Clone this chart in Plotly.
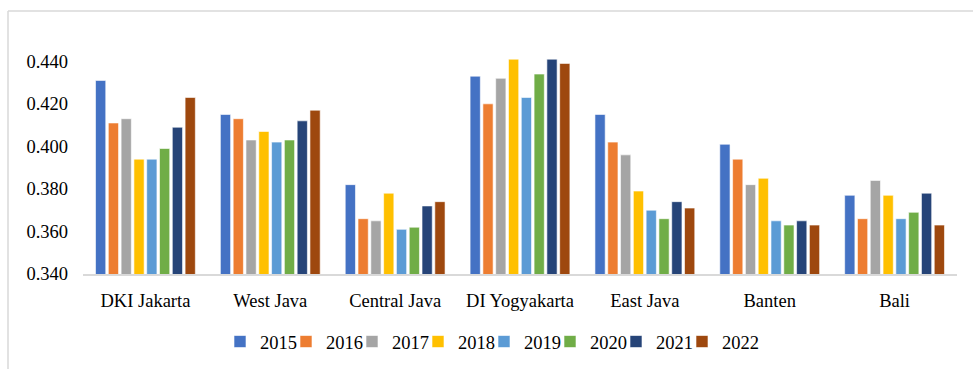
import plotly.graph_objects as go

categories = ["DKI Jakarta", "West Java", "Central Java", "DI Yogyakarta", "East Java", "Banten", "Bali"]
years = ["2015", "2016", "2017", "2018", "2019", "2020", "2021", "2022"]
v2015 = [0.431, 0.415, 0.382, 0.433, 0.415, 0.401, 0.377]
v2016 = [0.411, 0.413, 0.366, 0.420, 0.402, 0.394, 0.366]
v2017 = [0.413, 0.403, 0.365, 0.432, 0.396, 0.382, 0.384]
v2018 = [0.394, 0.407, 0.378, 0.441, 0.379, 0.385, 0.377]
v2019 = [0.394, 0.402, 0.361, 0.423, 0.370, 0.365, 0.366]
v2020 = [0.399, 0.403, 0.362, 0.434, 0.366, 0.363, 0.369]
v2021 = [0.409, 0.412, 0.372, 0.441, 0.374, 0.365, 0.378]
v2022 = [0.423, 0.417, 0.374, 0.439, 0.371, 0.363, 0.363]
series = [v2015, v2016, v2017, v2018, v2019, v2020, v2021, v2022]
colors = ["#4472C4", "#ED7D31", "#A5A5A5", "#FFC000", "#5B9BD5", "#70AD47", "#264478", "#9E480E"]
tickvals = [0.34, 0.36, 0.38, 0.40, 0.42, 0.44]
ticktext = ["0.340", "0.360", "0.380", "0.400", "0.420", "0.440"]

FAM = "Liberation Serif"
FS = 18.5

fig = go.Figure()
for i, (name, vals, c) in enumerate(zip(years, series, colors)):
    fig.add_trace(go.Bar(x=categories, y=vals, name=name,
                         marker=dict(color=c, line=dict(color="white", width=0.6)),
                         legendwidth=(42 if i == len(years) - 1 else None)))

W, H = 973, 369
L, R, T, B = 83, 16, 40, 95
pw, ph = W - L - R, H - T - B

fig.update_layout(
    width=W, height=H,
    margin=dict(l=L, r=R, t=T, b=B, autoexpand=False),
    paper_bgcolor="white", plot_bgcolor="white",
    font=dict(family=FAM, size=FS, color="#000000"),
    barmode="group", bargap=0.18, bargroupgap=0.2,
    showlegend=True,
    legend=dict(orientation="h", x=(220 - L) / pw, xanchor="left", y=-(342 - 274) / ph, yanchor="middle",
                entrywidth=21, font=dict(family=FAM, size=FS, color="#000000"), itemwidth=30),
    xaxis=dict(showline=True, linecolor="#D9D9D9", linewidth=2, ticks="", showgrid=False,
               ticklabelstandoff=9, tickfont=dict(family=FAM, size=FS, color="#000000")),
    yaxis=dict(range=[0.34, 0.45], tickvals=tickvals, ticktext=ticktext, showgrid=False,
               showline=False, ticks="", zeroline=False, ticklabelstandoff=14,
               tickfont=dict(family=FAM, size=FS, color="#000000")),
)

# chart frame (light gray border, partly cropped)
def px2x(px):
    return (px - L) / pw

def py2y(py):
    return (H - B - py) / ph

fig.add_shape(type="line", xref="paper", yref="paper", x0=px2x(8), x1=px2x(973), y0=py2y(11), y1=py2y(11),
              line=dict(color="#D9D9D9", width=1.5))
fig.add_shape(type="line", xref="paper", yref="paper", x0=px2x(8), x1=px2x(8), y0=py2y(11), y1=py2y(369),
              line=dict(color="#D9D9D9", width=1.5))

fig.write_html("out.html")
